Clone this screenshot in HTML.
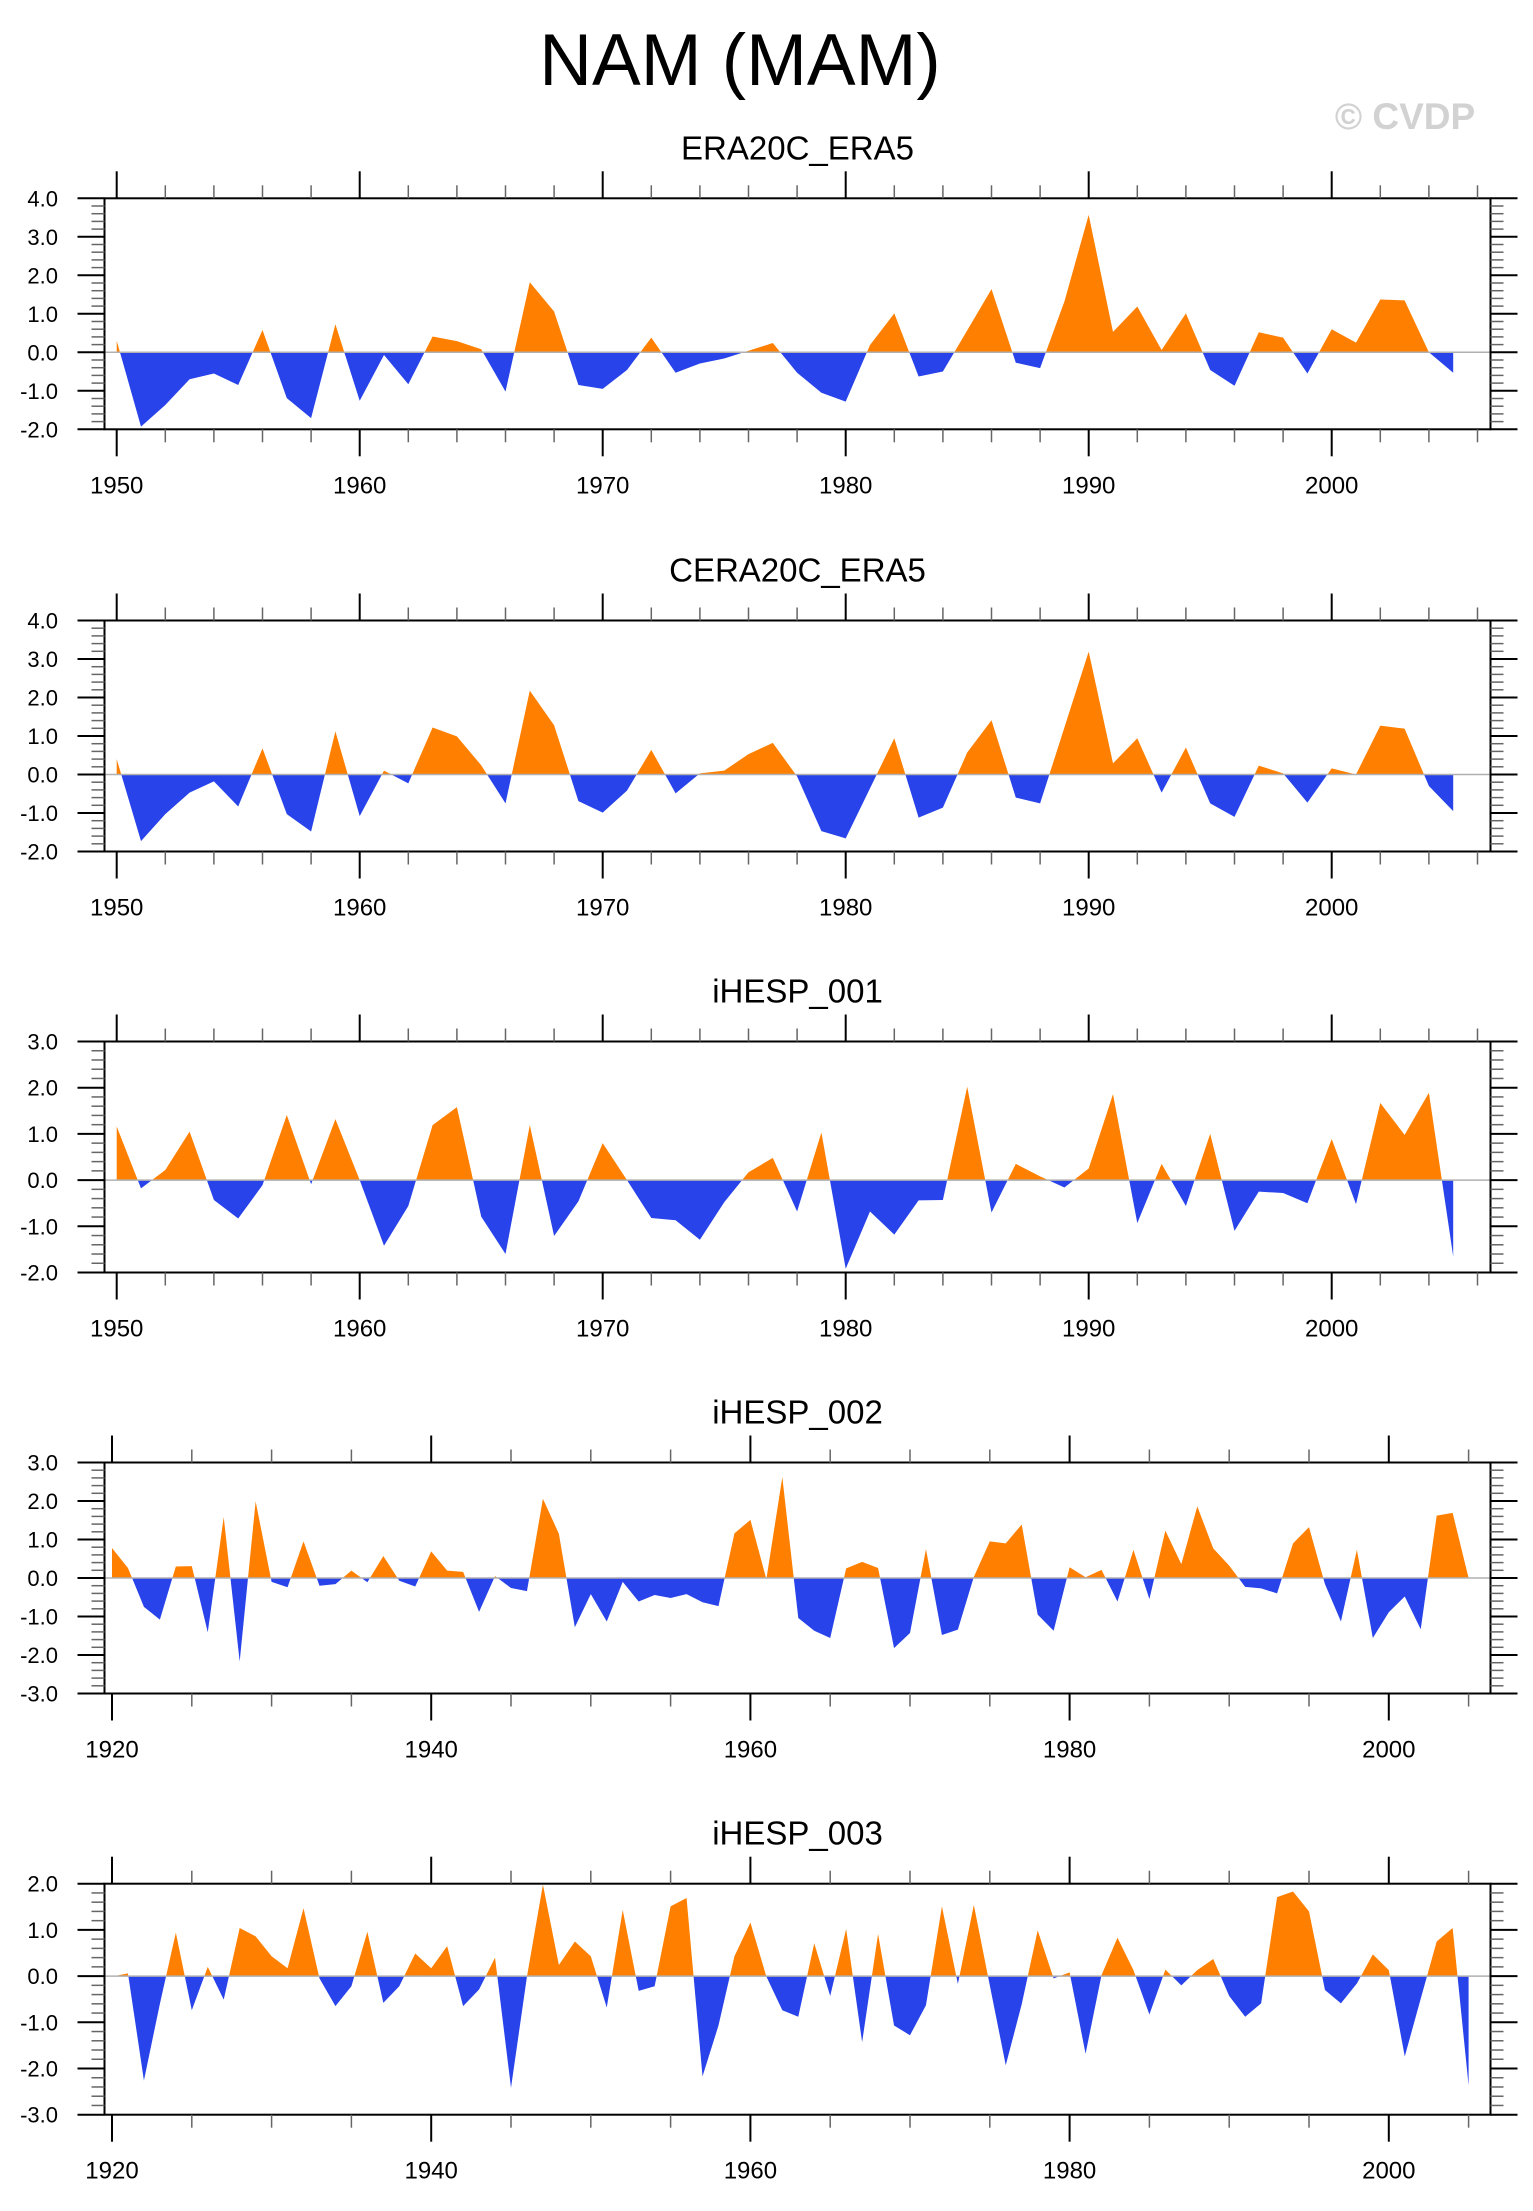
<!DOCTYPE html>
<html><head><meta charset="utf-8"><style>
html,body{margin:0;padding:0;background:#fff;}
svg{display:block;}
text{font-family:"Liberation Sans",Arial,sans-serif;fill:#000;}
</style></head><body>
<svg id="chart" width="1533" height="2211" viewBox="0 0 1533 2211" xmlns="http://www.w3.org/2000/svg">
<rect width="1533" height="2211" fill="#fff"/>
<text x="740" y="85" font-size="73" text-anchor="middle">NAM (MAM)</text>
<text x="1405" y="129" font-size="37" font-weight="bold" text-anchor="middle" style="fill:#d2d2d2">© CVDP</text>
</svg>
<script>
const titles = ["ERA20C_ERA5","CERA20C_ERA5","iHESP_001","iHESP_002","iHESP_003"];
const startYears = [1950,1950,1950,1920,1920];
const era20c = [0.3,-1.93,-1.37,-0.70,-0.55,-0.85,0.58,-1.19,-1.71,0.73,-1.26,-0.07,-0.83,0.41,0.29,0.08,-1.02,1.82,1.06,-0.85,-0.95,-0.46,0.38,-0.53,-0.29,-0.16,0.04,0.24,-0.53,-1.05,-1.28,0.19,1.01,-0.63,-0.5,0.57,1.64,-0.27,-0.41,1.32,3.57,0.53,1.19,0.06,1.01,-0.46,-0.87,0.52,0.38,-0.55,0.6,0.25,1.37,1.35,0.0,-0.53];
const cera20c = [0.4,-1.73,-1.03,-0.47,-0.18,-0.83,0.68,-1.03,-1.48,1.12,-1.08,0.1,-0.23,1.22,0.99,0.24,-0.75,2.18,1.28,-0.69,-0.99,-0.42,0.64,-0.49,0.03,0.1,0.53,0.82,-0.05,-1.47,-1.66,-0.36,0.94,-1.12,-0.86,0.57,1.41,-0.6,-0.75,1.22,3.19,0.29,0.94,-0.47,0.7,-0.75,-1.1,0.23,0.03,-0.73,0.16,0.0,1.27,1.19,-0.3,-0.95];
const ihesp001 = [1.16,-0.18,0.22,1.05,-0.43,-0.83,-0.11,1.41,-0.09,1.32,0.0,-1.42,-0.56,1.19,1.58,-0.79,-1.6,1.19,-1.21,-0.46,0.8,0.0,-0.82,-0.87,-1.29,-0.48,0.17,0.48,-0.68,1.03,-1.92,-0.68,-1.18,-0.44,-0.43,2.02,-0.7,0.35,0.08,-0.16,0.25,1.86,-0.93,0.35,-0.56,1.0,-1.1,-0.25,-0.28,-0.5,0.89,-0.52,1.67,0.98,1.89,-1.65];
const ihesp002 = [0.78,0.26,-0.75,-1.08,0.3,0.31,-1.41,1.58,-2.17,1.99,-0.1,-0.24,0.95,-0.2,-0.16,0.19,-0.11,0.57,-0.07,-0.22,0.69,0.19,0.16,-0.88,0.05,-0.26,-0.34,2.06,1.15,-1.28,-0.42,-1.13,-0.1,-0.61,-0.44,-0.52,-0.42,-0.63,-0.73,1.16,1.51,-0.03,2.62,-1.04,-1.37,-1.56,0.25,0.42,0.26,-1.82,-1.43,0.75,-1.48,-1.34,0.03,0.95,0.9,1.39,-0.95,-1.37,0.28,0.02,0.21,-0.61,0.73,-0.55,1.23,0.36,1.86,0.77,0.32,-0.23,-0.27,-0.4,0.9,1.32,-0.16,-1.13,0.73,-1.56,-0.89,-0.48,-1.33,1.62,1.69,0.0];
const ihesp003 = [-0.01,0.06,-2.26,-0.6,0.94,-0.74,0.2,-0.51,1.04,0.86,0.43,0.17,1.47,-0.05,-0.65,-0.22,0.96,-0.58,-0.22,0.49,0.17,0.65,-0.65,-0.29,0.4,-2.42,-0.01,1.98,0.24,0.75,0.43,-0.68,1.43,-0.32,-0.22,1.51,1.69,-2.17,-1.07,0.43,1.16,-0.01,-0.74,-0.88,0.71,-0.43,1.02,-1.43,0.91,-1.07,-1.28,-0.63,1.51,-0.17,1.54,-0.2,-1.93,-0.61,0.99,-0.05,0.08,-1.68,0.02,0.83,0.13,-0.83,0.14,-0.2,0.13,0.37,-0.43,-0.88,-0.59,1.71,1.83,1.4,-0.3,-0.59,-0.16,0.47,0.13,-1.74,-0.49,0.75,1.04,-2.37];
const yMins = [-2,-2,-2,-3,-3];
const yMaxs = [4,4,3,3,2];
const xLabelSets = [[1950,1960,1970,1980,1990,2000],[1950,1960,1970,1980,1990,2000],[1950,1960,1970,1980,1990,2000],[1920,1940,1960,1980,2000],[1920,1940,1960,1980,2000]];
const seriesList = [era20c, cera20c, ihesp001, ihesp002, ihesp003];

const NS = "http://www.w3.org/2000/svg";
const svg = document.getElementById('chart');
function mk(tag, attrs, parent){ const e=document.createElementNS(NS,tag); for(const k in attrs) e.setAttribute(k,attrs[k]); (parent||svg).appendChild(e); return e; }

const L=104.5, R=1490.5, H=231;
const tops=[198.3,620.5,1041.5,1462.5,1883.7];
const geo=[{x0:116.7,px:24.3,maj:10,min:2},{x0:116.7,px:24.3,maj:10,min:2},{x0:116.7,px:24.3,maj:10,min:2},{x0:112,px:15.96,maj:20,min:5},{x0:112,px:15.96,maj:20,min:5}];

for(let p=0;p<5;p++){
  const top=tops[p], bot=top+H, g0=geo[p];
  const ymin=yMins[p], ymax=yMaxs[p];
  const ys=v=> top + (ymax-v)/(ymax-ymin)*H;
  const sy=startYears[p];
  const xs=yr=> g0.x0 + (yr-startYears[p])*g0.px;
  const grp=mk('g',{});
  
  
  const t=mk('text',{x:(L+R)/2,y:top-39,'font-size':33,'text-anchor':'middle'},grp);
  t.textContent=titles[p];
  
  
  const vals=seriesList[p];
  let pts=[];
  vals.forEach((v,i)=>pts.push(xs(sy+i).toFixed(2)+','+ys(v).toFixed(2)));
  const z=ys(0);
  const poly=xs(sy).toFixed(2)+','+z+' '+pts.join(' ')+' '+xs(sy+vals.length-1).toFixed(2)+','+z;
  const cpA=mk('clipPath',{id:'ca'+p},grp); mk('rect',{x:L,y:top,width:R-L,height:z-top},cpA);
  const cpB=mk('clipPath',{id:'cb'+p},grp); mk('rect',{x:L,y:z,width:R-L,height:bot-z},cpB);
  const pa=mk('polygon',{points:poly,fill:'#ff8000','clip-path':'url(#ca'+p+')'},grp);
  
  
  const pb=mk('polygon',{points:poly,fill:'#2943eb','clip-path':'url(#cb'+p+')'},grp);
  
  
  const zl=mk('line',{x1:L,x2:R,y1:z,y2:z,stroke:'#b0b0b0','stroke-width':1.5},grp);
  
  
  const bx=mk('rect',{x:L,y:top,width:R-L,height:H,fill:'none',stroke:'#000','stroke-width':2},grp);
  
  
  const nMin=Math.round((ymax-ymin)/0.2);
  for(let k=0;k<=nMin;k++){
    const v=ymin+k*0.2, y=ys(v);
    const major=(k%5===0);
    const len=major?27:13;
    mk('line',{x1:L-len,x2:L,y1:y,y2:y,stroke:major?'#000':'#666','stroke-width':major?2:1.5},grp);
    mk('line',{x1:R,x2:R+len,y1:y,y2:y,stroke:major?'#000':'#666','stroke-width':major?2:1.5},grp);
    if(major){
      const lt=mk('text',{x:58,y:y+8,'font-size':22,'text-anchor':'end'},grp);
      lt.textContent=v.toFixed(1);
      
      
    }
  }
  for(let yr=startYears[p]; xs(yr)<=R; yr+=g0.min){
    const x=xs(yr); const major=((yr-startYears[p])%g0.maj===0);
    const len=major?27:13;
    mk('line',{x1:x,x2:x,y1:top-len,y2:top,stroke:major?'#000':'#666','stroke-width':major?2:1.5},grp);
    mk('line',{x1:x,x2:x,y1:bot,y2:bot+len,stroke:major?'#000':'#666','stroke-width':major?2:1.5},grp);
  }
  xLabelSets[p].forEach(yr=>{
    const xt=mk('text',{x:xs(yr),y:bot+64,'font-size':24,'text-anchor':'middle'},grp);
    xt.textContent=yr;
    
    
  });
}
</script>
</body></html>
